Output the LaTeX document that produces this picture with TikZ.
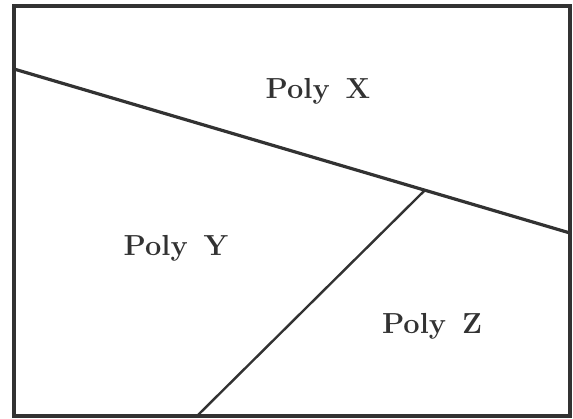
\documentclass[tikz,border=0pt]{standalone}
\usepackage{xcolor}
\usepackage{tikz}
\usetikzlibrary{positioning, calc}
\definecolor{linegray}{RGB}{50, 50, 50}
\tikzset{
  polylabel/.style={anchor=base, font=\fontsize{29}{32}\selectfont\bfseries, text=linegray},
  edge/.style={linegray, line width=3.2pt}
}

\begin{document}
\begin{tikzpicture}[x=1pt, y=-1pt]
            \useasboundingbox (0,0) rectangle (573,418);
            \coordinate (tl) at (14,6);
            \coordinate (br) at (570,416);
            \draw[edge] (tl) rectangle (br);

            % Linee di confine
            \coordinate (xl) at (14,69);
            \coordinate (xr) at (570,233);
            \coordinate (j) at ($(xl)!0.739!(xr)$);
            \coordinate (zb) at (197,416);
            \draw[edge] (xl) -- (xr);
            \draw[edge, line width=2.4pt] (j) -- (zb);

            \node[polylabel] (px) at (318,98) {Poly\hspace{0.55em}X};
            \node[polylabel] (py) at (176,255) {Poly\hspace{0.55em}Y};
            \node[polylabel] (pz) at (432,333) {Poly\hspace{0.55em}Z};
        \end{tikzpicture}
\end{document}
